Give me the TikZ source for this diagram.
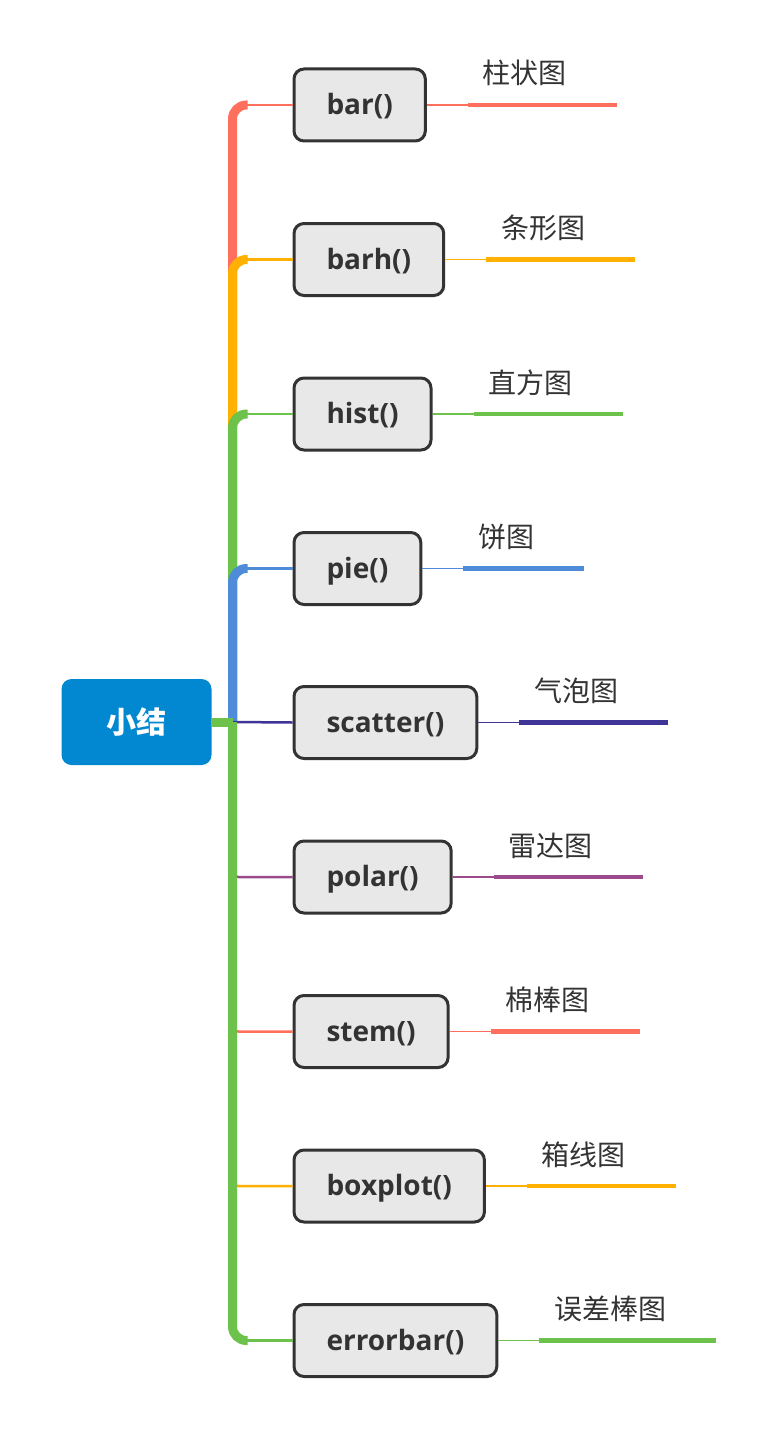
\documentclass[tikz,border=0pt]{standalone}
\usepackage{fontspec}
\setmainfont{Open Sans}
\newfontfamily\cjk{Noto Sans CJK SC}
\usetikzlibrary{positioning}

\definecolor{rootblue}{RGB}{2,136,209}
\definecolor{boxgray}{RGB}{232,232,232}
\definecolor{inkgray}{RGB}{51,51,51}
\definecolor{cred}{RGB}{255,111,94}
\definecolor{corange}{RGB}{255,176,0}
\definecolor{cgreen}{RGB}{108,194,74}
\definecolor{cblue}{RGB}{78,140,217}
\definecolor{cindigo}{RGB}{63,53,150}
\definecolor{cpurple}{RGB}{155,74,140}

\tikzset{
  root/.style={fill=rootblue, rounded corners=10pt, minimum width=150pt, minimum height=86pt,
    inner sep=0pt, text=white, text height=22pt, text depth=0pt,
    font=\cjk\bfseries\fontsize{30}{36}\selectfont},
  func/.style={draw=inkgray, line width=3pt, fill=boxgray, rounded corners=10pt,
    minimum height=72pt, inner xsep=32.5pt, inner ysep=0pt, text height=24pt, text depth=5pt,
    text=inkgray, font=\bfseries\fontsize{28}{34}\selectfont},
  tag/.style={inner xsep=15pt, inner ysep=0pt, outer sep=0pt, text height=24pt, text depth=21pt,
    text=inkgray, font=\cjk\fontsize{28}{34}\selectfont},
  limb/.style={line width=9pt, rounded corners=14pt},
  twig/.style={line width=2.5pt, rounded corners=6pt},
  thread/.style={line width=1.2pt},
  rule/.style={line width=4.5pt}
}

\begin{document}
\begin{tikzpicture}[x=1pt,y=-1pt]
\useasboundingbox (0,0) rectangle (779,1442);

% centre topic
\node[root] (root) at (136.5,722) {小结};
\coordinate (hub) at (232.5,722);

% functions
\node[func, anchor=west] (bar) at (292.5,105) {bar()};
\node[func, anchor=west] (barh) at (292.5,259.5) {barh()};
\node[func, anchor=west] (hist) at (292.5,414) {hist()};
\node[func, anchor=west] (pie) at (292.5,568.5) {pie()};
\node[func, anchor=west] (scatter) at (292.5,722.5) {scatter()};
\node[func, anchor=west] (polar) at (292.5,877) {polar()};
\node[func, anchor=west] (stem) at (292.5,1031.5) {stem()};
\node[func, anchor=west] (boxplot) at (292.5,1186) {boxplot()};
\node[func, anchor=west] (errorbar) at (292.5,1340.5) {errorbar()};

% chart names
\node[tag, above right=0pt and 41pt of bar.east] (barlab) {柱状图};
\node[tag, above right=0pt and 41pt of barh.east] (barhlab) {条形图};
\node[tag, above right=0pt and 41pt of hist.east] (histlab) {直方图};
\node[tag, above right=0pt and 41pt of pie.east] (pielab) {饼图};
\node[tag, above right=0pt and 41pt of scatter.east] (scatterlab) {气泡图};
\node[tag, above right=0pt and 41pt of polar.east] (polarlab) {雷达图};
\node[tag, above right=0pt and 41pt of stem.east] (stemlab) {棉棒图};
\node[tag, above right=0pt and 41pt of boxplot.east] (boxplotlab) {箱线图};
\node[tag, above right=0pt and 41pt of errorbar.east] (errorbarlab) {误差棒图};

% branches, upper half
\draw[limb, cred] (hub) |- ([xshift=-45pt]bar.west);
\draw[twig, cred] ([xshift=-46pt]bar.west) -- (bar.west);
\draw[limb, corange] (hub) |- ([xshift=-45pt]barh.west);
\draw[twig, corange] ([xshift=-46pt]barh.west) -- (barh.west);
\draw[limb, cgreen] (hub) |- ([xshift=-45pt]hist.west);
\draw[twig, cgreen] ([xshift=-46pt]hist.west) -- (hist.west);
\draw[limb, cblue] (hub) |- ([xshift=-45pt]pie.west);
\draw[twig, cblue] ([xshift=-46pt]pie.west) -- (pie.west);

% branches, lower half
\draw[twig, cindigo] (hub) -- (scatter.west);
\draw[twig, cpurple] (hub) |- (polar.west);
\draw[twig, cred] (hub) |- (stem.west);
\draw[twig, corange] (hub) |- (boxplot.west);
\draw[limb, cgreen] (hub) |- ([xshift=-45pt]errorbar.west);
\draw[twig, cgreen] ([xshift=-46pt]errorbar.west) -- (errorbar.west);
\draw[limb, cgreen] (root.east) -- (hub);

% underlines
\draw[thread, cred] (bar.east) -- (barlab.south west);
\draw[rule, cred] (barlab.south west) -- ([xshift=35pt]barlab.south east);
\draw[thread, corange] (barh.east) -- (barhlab.south west);
\draw[rule, corange] (barhlab.south west) -- ([xshift=35pt]barhlab.south east);
\draw[thread, cgreen] (hist.east) -- (histlab.south west);
\draw[rule, cgreen] (histlab.south west) -- ([xshift=35pt]histlab.south east);
\draw[thread, cblue] (pie.east) -- (pielab.south west);
\draw[rule, cblue] (pielab.south west) -- ([xshift=35pt]pielab.south east);
\draw[thread, cindigo] (scatter.east) -- (scatterlab.south west);
\draw[rule, cindigo] (scatterlab.south west) -- ([xshift=35pt]scatterlab.south east);
\draw[thread, cpurple] (polar.east) -- (polarlab.south west);
\draw[rule, cpurple] (polarlab.south west) -- ([xshift=35pt]polarlab.south east);
\draw[thread, cred] (stem.east) -- (stemlab.south west);
\draw[rule, cred] (stemlab.south west) -- ([xshift=35pt]stemlab.south east);
\draw[thread, corange] (boxplot.east) -- (boxplotlab.south west);
\draw[rule, corange] (boxplotlab.south west) -- ([xshift=35pt]boxplotlab.south east);
\draw[thread, cgreen] (errorbar.east) -- (errorbarlab.south west);
\draw[rule, cgreen] (errorbarlab.south west) -- ([xshift=35pt]errorbarlab.south east);

\end{tikzpicture}
\end{document}
